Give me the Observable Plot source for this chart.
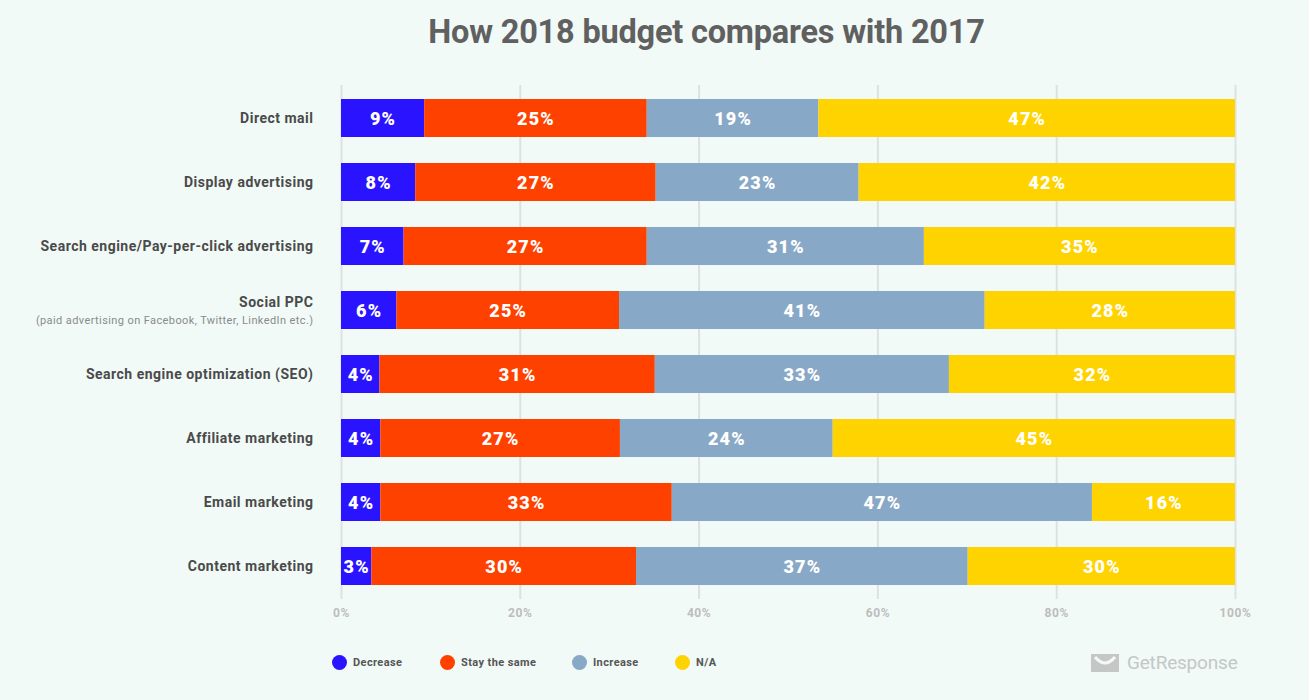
<!DOCTYPE html>
<html>
<head>
<meta charset="utf-8">
<script src="https://cdn.jsdelivr.net/npm/d3@7"></script>
<script src="https://cdn.jsdelivr.net/npm/@observablehq/plot@0.6"></script>
<style>
  html, body { margin: 0; padding: 0; background: #f1faf7; font-family: Roboto, "Noto Sans", sans-serif; }
  #wrap { width: 1309px; height: 700px; position: relative; overflow: hidden; }
  #title { position: absolute; left: 52px; width: 1309px; top: 13px; text-align: center; font-size: 32.5px; font-weight: 700; color: #606060; letter-spacing: -0.2px; }
  #chart { position: absolute; left: 0; top: 70px; }
  #legend { position: absolute; top: 655px; left: 332px; display: flex; font-size: 11px; font-weight: 700; color: #555; letter-spacing: 0.4px; }
  .item { display: flex; align-items: center; margin-right: 0; }
  .dot { width: 15px; height: 15px; border-radius: 50%; margin-right: 6px; }
  #logo { position: absolute; top: 651px; left: 1091px; display: flex; align-items: center; color: #c4c7c6; font-size: 19px; font-weight: 400; letter-spacing: -0.2px; }
</style>
</head>
<body>
<div id="wrap">
  <div id="title">How 2018 budget compares with 2017</div>
  <div id="chart"></div>
  <div id="legend"></div>
  <div id="logo">
    <svg width="28" height="18" viewBox="0 0 28 18" style="margin-right:8px">
      <rect x="0" y="0" width="28" height="18" fill="#c4c7c6"/>
      <path d="M4 3 Q14 15 24 3" stroke="#f1faf7" stroke-width="3" fill="none"/>
    </svg>
    <span>GetResponse</span>
  </div>
</div>
<script>
const categories = [
  "Direct mail",
  "Display advertising",
  "Search engine/Pay-per-click advertising",
  "Social PPC",
  "Search engine optimization (SEO)",
  "Affiliate marketing",
  "Email marketing",
  "Content marketing"
];
const subtitles = {"Social PPC": "(paid advertising on Facebook, Twitter, LinkedIn etc.)"};
const seriesNames = ["Decrease", "Stay the same", "Increase", "N/A"];
const seriesColors = ["#2a14ff", "#ff4100", "#88a8c7", "#ffd300"];
const decrease = [9.3, 8.3, 7.0, 6.2, 4.3, 4.4, 4.4, 3.4];
const staySame = [24.9, 26.9, 27.2, 24.9, 30.8, 26.8, 32.6, 29.6];
const increase = [19.2, 22.7, 31.0, 40.9, 32.9, 23.8, 47.0, 37.1];
const notApplicable = [46.6, 42.1, 34.8, 28.0, 32.0, 45.0, 16.0, 29.9];
const xTicks = [0, 20, 40, 60, 80, 100];

const seriesValues = [decrease, staySame, increase, notApplicable];
const data = [];
seriesNames.forEach((s, si) => {
  categories.forEach((c, ci) => {
    data.push({category: c, series: s, value: seriesValues[si][ci]});
  });
});
const withSub = categories.filter(c => subtitles[c]);
const noSub = categories.filter(c => !subtitles[c]);

const chart = Plot.plot({
  width: 1309,
  height: 562,
  marginLeft: 341,
  marginRight: 74,
  marginTop: 15,
  marginBottom: 33,
  style: {background: "transparent", fontFamily: "Roboto, 'Noto Sans', sans-serif"},
  x: {domain: [0, 100], ticks: xTicks, tickFormat: d => d + "%", label: null, tickSize: 0, tickPadding: 9},
  y: {domain: categories, paddingInner: 0.41, paddingOuter: 0.2, axis: null, label: null},
  color: {domain: seriesNames, range: seriesColors},
  marks: [
    Plot.gridX(xTicks, {stroke: "#dde2e0", strokeOpacity: 1, strokeWidth: 2}),
    Plot.barX(data, {x: "value", y: "category", fill: "series", order: seriesNames}),
    Plot.text(data, Plot.stackX({x: "value", y: "category", z: "series", order: seriesNames,
      text: d => Math.round(d.value) + "%", fill: "white", fontSize: 18, fontWeight: 900, dy: 1})),
    Plot.text(noSub, {x: 0, y: d => d, text: d => d, textAnchor: "end", dx: -28,
      fontSize: 14, fontWeight: 700, fill: "#4a4a4a"}),
    Plot.text(withSub, {x: 0, y: d => d, text: d => d, textAnchor: "end", dx: -28, dy: -8,
      fontSize: 14, fontWeight: 700, fill: "#4a4a4a"}),
    Plot.text(withSub, {x: 0, y: d => d, text: d => subtitles[d], textAnchor: "end", dx: -28,
      dy: 10, fontSize: 11, fill: "#8a8a8a"})
  ]
});
const ax = chart.querySelector('g[aria-label="x-axis tick label"]');
if (ax) {
  ax.setAttribute("font-size", "12");
  ax.setAttribute("font-weight", "700");
  ax.setAttribute("fill", "#bdbdbd");
  ax.setAttribute("letter-spacing", "0.6px");
}
const textGroups = chart.querySelectorAll('g[aria-label="text"]');
const spacings = ["1.2px", "0.5px", "0.5px", "0.4px"];
textGroups.forEach((g, i) => g.setAttribute("letter-spacing", spacings[i] || "0px"));
document.getElementById("chart").appendChild(chart);

const legend = document.getElementById("legend");
const gaps = [108, 132, 103, 0];
seriesNames.forEach((s, i) => {
  const item = document.createElement("div");
  item.className = "item";
  item.style.width = (gaps[i] || 60) + "px";
  item.innerHTML = `<div class="dot" style="background:${seriesColors[i]}"></div><span>${s}</span>`;
  legend.appendChild(item);
});
</script>
</body>
</html>
